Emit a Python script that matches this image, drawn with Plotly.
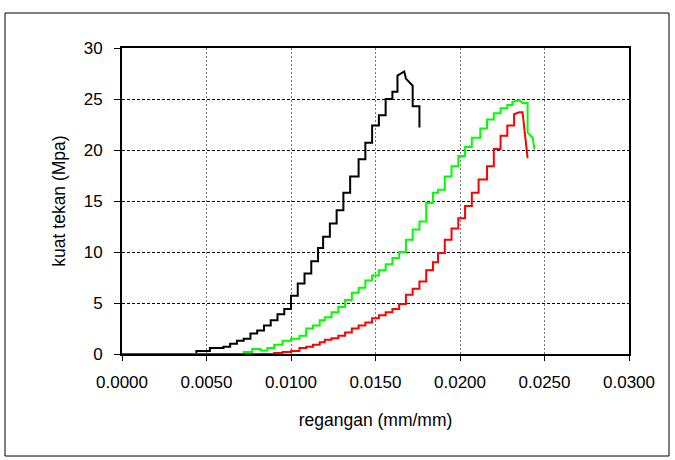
import plotly.graph_objects as go

# ---- data (strain mm/mm, stress MPa) ----
black_step_x = [0.0000, 0.0044, 0.0052, 0.0060, 0.0064, 0.0068, 0.0072, 0.0076, 0.0080, 0.0084,
                0.0088, 0.0092, 0.0096, 0.0100, 0.0104, 0.0108, 0.0112, 0.0116, 0.0119, 0.0123,
                0.0127, 0.0131, 0.0135, 0.0140, 0.0144, 0.0148, 0.0152, 0.0156, 0.0160, 0.0163]
black_step_y = [0.0, 0.3, 0.6, 0.7, 1.0, 1.3, 1.5, 2.0, 2.3, 2.8,
                3.3, 3.9, 4.4, 5.7, 6.9, 7.9, 9.1, 10.4, 11.5, 12.8,
                14.1, 15.8, 17.4, 19.1, 20.7, 22.4, 23.4, 25.0, 25.7, 27.3]
black_tail_x = [0.0167, 0.0168, 0.0172, 0.0172, 0.0176, 0.0176]
black_tail_y = [27.7, 27.0, 26.3, 24.3, 24.3, 22.2]

green_step_x = [0.0000, 0.0072, 0.0077, 0.0082, 0.0086, 0.0090, 0.0095, 0.0100,
                0.0105, 0.0109, 0.0113, 0.0117, 0.0120, 0.0124, 0.0128, 0.0132,
                0.0136, 0.0140, 0.0144, 0.0148, 0.0152, 0.0156, 0.0160, 0.0164,
                0.0168, 0.0172, 0.0176, 0.0180, 0.0184, 0.0187, 0.0191, 0.0195,
                0.0199, 0.0203, 0.0207, 0.0212, 0.0216, 0.0220, 0.0224, 0.0228, 0.0231]
green_step_y = [0.0, 0.2, 0.5, 0.35, 0.6, 0.9, 1.3, 1.5,
                1.8, 2.5, 2.8, 3.3, 3.6, 4.1, 4.6, 5.3,
                6.0, 6.5, 7.2, 7.7, 8.2, 8.8, 9.4, 10.0,
                11.2, 12.2, 13.0, 14.8, 15.8, 16.1, 17.4, 18.4,
                19.4, 20.3, 21.2, 22.1, 23.0, 23.6, 24.1, 24.4, 24.7]
green_tail_x = [0.0235, 0.0237, 0.0240, 0.0240, 0.0243, 0.0244]
green_tail_y = [24.9, 24.6, 24.6, 21.7, 21.2, 20.1]

red_step_x = [0.0000, 0.0090, 0.0095, 0.0100,
              0.0105, 0.0109, 0.0113, 0.0117, 0.0120, 0.0124, 0.0128, 0.0132,
              0.0136, 0.0140, 0.0144, 0.0148, 0.0152, 0.0156, 0.0160, 0.0164,
              0.0168, 0.0172, 0.0176, 0.0180, 0.0184, 0.0187, 0.0191, 0.0195,
              0.0199, 0.0203, 0.0207, 0.0211, 0.0216, 0.0220, 0.0224, 0.0228, 0.0232]
red_step_y = [0.0, 0.1, 0.2, 0.3,
              0.6, 0.7, 0.9, 1.15, 1.4, 1.55, 1.8, 2.1,
              2.5, 2.8, 3.1, 3.5, 3.8, 4.1, 4.4, 4.9,
              5.8, 6.4, 7.1, 8.2, 9.0, 9.9, 11.2, 12.3,
              13.3, 14.5, 15.8, 17.1, 18.4, 20.1, 21.4, 22.4, 23.5]
red_tail_x = [0.0235, 0.0237, 0.0240]
red_tail_y = [23.7, 23.7, 19.2]

x_ticks = [0.0, 0.005, 0.010, 0.015, 0.020, 0.025, 0.030]
y_ticks = [0, 5, 10, 15, 20, 25, 30]


def stair(xs, ys, tx, ty):
    vx, vy = [xs[0]], [ys[0]]
    for i in range(1, len(xs)):
        vx += [xs[i], xs[i]]
        vy += [ys[i - 1], ys[i]]
    return vx + tx, vy + ty


fig = go.Figure()
for (sx, sy, tx, ty, col) in [
    (black_step_x, black_step_y, black_tail_x, black_tail_y, "#000000"),
    (green_step_x, green_step_y, green_tail_x, green_tail_y, "#00ff00"),
    (red_step_x, red_step_y, red_tail_x, red_tail_y, "#ff0000"),
]:
    vx, vy = stair(sx, sy, tx, ty)
    fig.add_trace(go.Scatter(x=vx, y=vy, mode="lines",
                             line=dict(color=col, width=2), showlegend=False,
                             hoverinfo="skip"))

FONT = "Liberation Sans, Arial, sans-serif"
fig.update_layout(
    width=675, height=460,
    margin=dict(l=122, r=46, t=48, b=106),
    paper_bgcolor="white", plot_bgcolor="white",
    font=dict(family=FONT, size=17, color="#000"),
    showlegend=False,
)
fig.update_xaxes(
    range=[0, 0.030], tickvals=x_ticks, tickformat=".4f",
    showgrid=True, gridcolor="#777777", griddash="2px,2px", gridwidth=1,
    showline=True, linecolor="#000", linewidth=2, mirror=True,
    ticks="outside", ticklen=5, tickwidth=1, tickcolor="#000",
    ticklabelstandoff=7, zeroline=False,
    title=dict(text="regangan (mm/mm)", font=dict(size=17.5), standoff=22),
)
fig.update_yaxes(
    range=[0, 30], tickvals=y_ticks,
    showgrid=True, gridcolor="#000000", griddash="3px,2px", gridwidth=1,
    showline=True, linecolor="#000", linewidth=2, mirror=True,
    ticks="outside", ticklen=6, tickwidth=1, tickcolor="#000",
    ticklabelstandoff=8, zeroline=False,
    title=dict(text="kuat tekan (Mpa)", font=dict(size=17.5), standoff=14),
)
pw, ph = 675 - 122 - 46, 460 - 48 - 106
fig.add_shape(type="rect", xref="paper", yref="paper",
              x0=(5 - 122) / pw, x1=(669 - 122) / pw,
              y0=(354 - 456) / ph, y1=(354 - 13) / ph,
              line=dict(color="#000", width=1), fillcolor="rgba(0,0,0,0)", layer="below")

fig.write_html("out.html")
